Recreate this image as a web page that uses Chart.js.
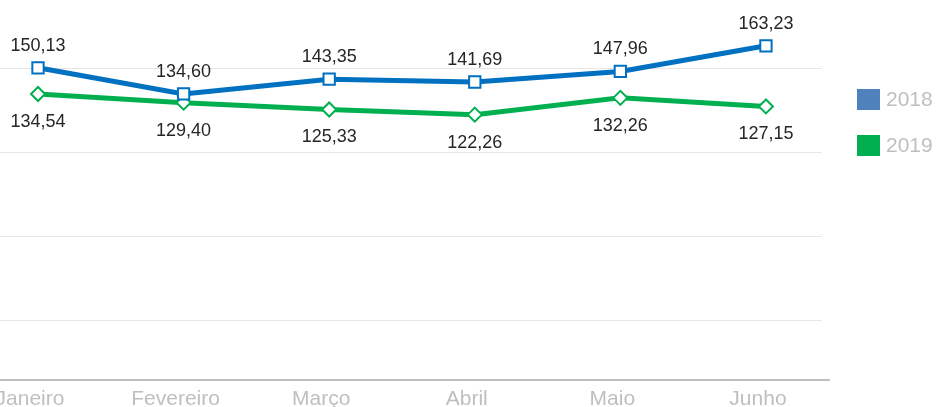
<!DOCTYPE html>
<html>
<head>
<meta charset="utf-8">
<script src="https://cdn.jsdelivr.net/npm/chart.js@4"></script>
<style>
  html, body { margin: 0; padding: 0; background: #fff; overflow: hidden; }
  #wrap { width: 936px; height: 407px; overflow: hidden; position: relative; }
</style>
</head>
<body>
<div id="wrap"><canvas id="chart" width="936" height="408"></canvas></div>
<script>
const months = ['Janeiro', 'Fevereiro', 'Março', 'Abril', 'Maio', 'Junho'];
const values2018 = [150.13, 134.60, 143.35, 141.69, 147.96, 163.23];
const values2019 = [134.54, 129.40, 125.33, 122.26, 132.26, 127.15];
const seriesNames = ['2018', '2019'];
const gridValues = [0, 50, 100, 150];

const lineColors = ['#0070c0', '#00b050'];
const legendColors = ['#4f81bd', '#00b050'];

const fmt = v => v.toFixed(2).replace('.', ',');
const toPoints = arr => arr.map((v, i) => ({ x: i, y: v }));

// axis line runs a bit past the gridlines
const baselinePlugin = {
  id: 'baseline',
  beforeDatasetsDraw(chart) {
    const { ctx, chartArea } = chart;
    ctx.save();
    ctx.strokeStyle = '#bfbfbf';
    ctx.lineWidth = 2;
    ctx.beginPath();
    ctx.moveTo(chartArea.left, chartArea.bottom);
    ctx.lineTo(chartArea.right + 8, chartArea.bottom);
    ctx.stroke();
    ctx.restore();
  }
};

// data labels: 2018 above, 2019 below
const labelPlugin = {
  id: 'pointLabels',
  afterDatasetsDraw(chart) {
    const ctx = chart.ctx;
    ctx.save();
    ctx.font = '18px "Liberation Sans", Arial, sans-serif';
    ctx.fillStyle = '#262626';
    ctx.textAlign = 'center';
    ctx.textBaseline = 'middle';
    chart.data.datasets.forEach((ds, di) => {
      const meta = chart.getDatasetMeta(di);
      meta.data.forEach((pt, i) => {
        const dy = di === 0 ? -22 : 28;
        ctx.fillText(fmt(ds.data[i].y), pt.x, pt.y + dy);
      });
    });
    ctx.restore();
  }
};

// legend on the right, square swatches
const legendPlugin = {
  id: 'sideLegend',
  afterDraw(chart) {
    const ctx = chart.ctx;
    const x = chart.chartArea.right + 35;
    ctx.save();
    ctx.font = '21px "Liberation Sans", Arial, sans-serif';
    ctx.textBaseline = 'middle';
    ctx.textAlign = 'left';
    seriesNames.forEach((name, i) => {
      const y = 89 + i * 46;
      ctx.fillStyle = legendColors[i];
      ctx.fillRect(x, y, 23, 21);
      ctx.fillStyle = '#bfbfbf';
      ctx.fillText(name, x + 29, y + 11);
    });
    ctx.restore();
  }
};

new Chart(document.getElementById('chart'), {
  type: 'line',
  data: {
    datasets: [{
      label: seriesNames[0],
      data: toPoints(values2018),
      borderColor: lineColors[0],
      borderWidth: 5,
      pointStyle: 'rect',
      pointRadius: 8,
      pointBorderWidth: 2,
      pointBackgroundColor: '#ffffff',
      pointBorderColor: lineColors[0],
      tension: 0
    }, {
      label: seriesNames[1],
      data: toPoints(values2019),
      borderColor: lineColors[1],
      borderWidth: 5,
      pointStyle: 'rectRot',
      pointRadius: 7,
      pointBorderWidth: 2,
      pointBackgroundColor: '#ffffff',
      pointBorderColor: lineColors[1],
      tension: 0
    }]
  },
  options: {
    responsive: false,
    animation: false,
    clip: false,
    layout: { padding: { left: 0, right: 114, top: 0, bottom: 0 }, autoPadding: false },
    plugins: {
      legend: { display: false },
      tooltip: { enabled: false }
    },
    scales: {
      x: {
        type: 'linear',
        min: -0.261,
        max: 5.385,
        afterBuildTicks: s => { s.ticks = months.map((m, i) => ({ value: i })); },
        afterFit: s => { s.height = 28; s.paddingLeft = 0; s.paddingRight = 0; },
        grid: { display: false, drawTicks: false },
        border: { display: false },
        ticks: {
          padding: 7,
          labelOffset: -8,
          color: '#bfbfbf',
          font: { family: '"Liberation Sans", Arial, sans-serif', size: 21 },
          callback: v => months[v],
          maxRotation: 0,
          autoSkip: false
        }
      },
      y: {
        display: true,
        min: -35.7,
        max: 190.5,
        afterBuildTicks: s => { s.ticks = gridValues.map(v => ({ value: v })); },
        afterFit: s => { s.width = 0; },
        grid: { color: '#e6e6e6', lineWidth: 1, drawTicks: false },
        border: { display: false },
        ticks: { display: false }
      }
    }
  },
  plugins: [baselinePlugin, labelPlugin, legendPlugin]
});
</script>
</body>
</html>
